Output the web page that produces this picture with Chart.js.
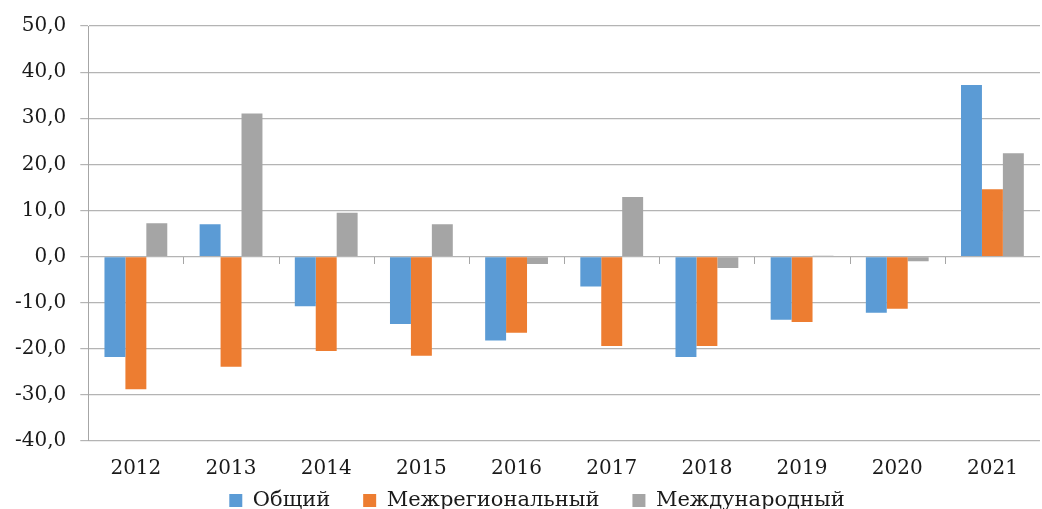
<!DOCTYPE html>
<html>
<head>
<meta charset="utf-8">
<script src="https://cdn.jsdelivr.net/npm/chart.js@4"></script>
<style>
  html, body { margin: 0; padding: 0; background: #fff; }
  #wrap { width: 1042px; height: 509px; }
</style>
</head>
<body>
<div id="wrap"><canvas id="bars"></canvas></div>
<script>
var years = ["2012", "2013", "2014", "2015", "2016", "2017", "2018", "2019", "2020", "2021"];
var obshchiy = [-21.8, 7.0, -10.8, -14.6, -18.2, -6.5, -21.8, -13.7, -12.2, 37.2];
var mezhregionalnyy = [-28.8, -23.9, -20.5, -21.5, -16.5, -19.4, -19.4, -14.2, -11.3, 14.6];
var mezhdunarodnyy = [7.2, 31.0, 9.5, 7.0, -1.6, 12.9, -2.5, 0.2, -1.0, 22.4];
var seriesNames = ["Общий", "Межрегиональный", "Международный"];

var serif = "'DejaVu Serif', serif";
var legendGap = 33;   // horizontal gap between legend items
var legendHeight = 12;

// short tick marks hanging under the zero line between categories
var zeroTicks = {
  id: "zeroTicks",
  afterDatasetsDraw: function (chart) {
    var x = chart.scales.x, y = chart.scales.y, c = chart.ctx;
    var y0 = Math.round(y.getPixelForValue(0));
    c.save();
    c.strokeStyle = "#a6a6a6";
    c.lineWidth = 1;
    c.beginPath();
    for (var i = 1; i < years.length; i++) {
      var px = Math.round((x.getPixelForValue(i - 1) + x.getPixelForValue(i)) / 2) + 0.5;
      c.moveTo(px, y0);
      c.lineTo(px, y0 + 7);
    }
    c.stroke();
    c.restore();
  }
};

// legend padding is used both across and down; keep the wide gaps, drop the tall box
var compactLegend = {
  id: "compactLegend",
  afterInit: function (chart) {
    var lg = chart.legend;
    if (!lg) return;
    var fit = lg.fit, draw = lg.draw;
    lg.fit = function () { fit.call(this); this.height = legendHeight; };
    lg.draw = function () {
      var t = this.top, l = this.left, r = this.right;
      this.top = t - 7 - legendGap;
      this.left = l + legendGap / 2;
      this.right = r + legendGap / 2;
      draw.call(this);
      this.top = t; this.left = l; this.right = r;
    };
  }
};

var ctx = document.getElementById("bars").getContext("2d");
var chart = new Chart(ctx, {
  type: "bar",
  data: {
    labels: years,
    datasets: [
      { label: seriesNames[0], data: obshchiy, backgroundColor: "#5b9bd5" },
      { label: seriesNames[1], data: mezhregionalnyy, backgroundColor: "#ed7d31" },
      { label: seriesNames[2], data: mezhdunarodnyy, backgroundColor: "#a5a5a5" },
    ],
  },
  options: {
    responsive: true,
    maintainAspectRatio: false,
    animation: false,
    categoryPercentage: 0.66,
    barPercentage: 1,
    layout: { padding: { top: 5, left: 1, right: 2, bottom: 0 } },
    plugins: {
      tooltip: { enabled: false },
      legend: {
        position: "bottom",
        labels: {
          font: { family: serif, size: 21 },
          color: "#1a1a1a",
          boxWidth: 13,
          boxHeight: 13,
          padding: legendGap,
        },
      },
    },
    scales: {
      x: {
        grid: { display: false, drawTicks: false },
        border: { display: false },
        ticks: { font: { family: serif, size: 20 }, color: "#1a1a1a", padding: 16 },
      },
      y: {
        min: -40,
        max: 50,
        ticks: {
          stepSize: 10,
          font: { family: serif, size: 20 },
          color: "#1a1a1a",
          padding: 14,
          callback: function (v) { return v.toFixed(1).replace(".", ","); },
        },
        grid: { color: "#b4b4b4", lineWidth: 1.2, tickLength: 8 },
        border: { display: true, color: "#a6a6a6", width: 1 },
      },
    },
  },
  plugins: [zeroTicks, compactLegend],
});
</script>
</body>
</html>
